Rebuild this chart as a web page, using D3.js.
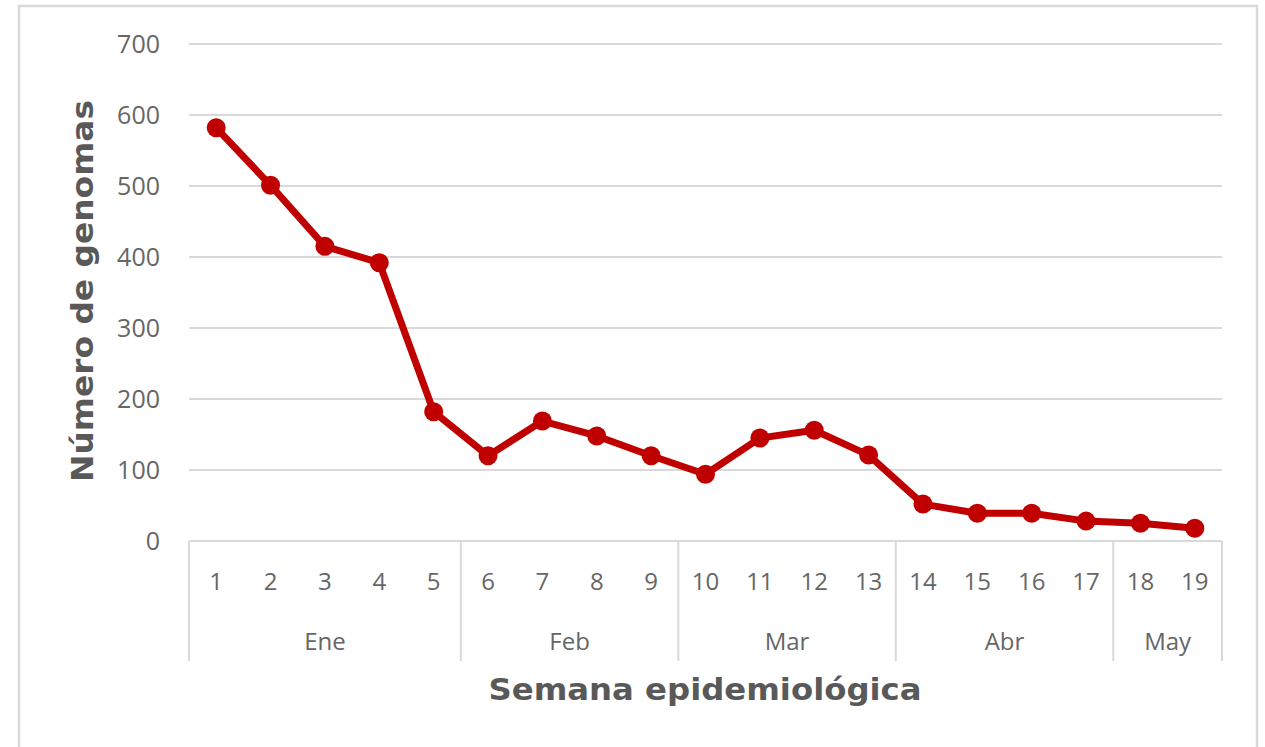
<!DOCTYPE html>
<html lang="es">
<head>
<meta charset="UTF-8">
<title>Número de genomas por semana epidemiológica</title>
<script src="https://d3js.org/d3.v7.min.js"></script>
<style>
  body { margin: 0; background: #fff; font-family: "Open Sans", sans-serif; }
  svg { display: block; }
</style>
</head>
<body>
<div id="chart"></div>
<script>
// data
const weeks = ["1","2","3","4","5","6","7","8","9","10","11","12","13","14","15","16","17","18","19"];
const genomes = [582, 501, 415, 392, 182, 120, 169, 148, 120, 94, 145, 156, 121, 52, 39, 39, 28, 25, 18];
const months = ["Ene", "Feb", "Mar", "Abr", "May"];
const monthWeeks = [5, 4, 4, 4, 2];   // how many weeks fall under each month
const yTicks = [0, 100, 200, 300, 400, 500, 600, 700];

const W = 1265, H = 747;
const margin = { top: 44, left: 189, right: 43, bottom: 206 };
const width = W - margin.left - margin.right;
const height = H - margin.top - margin.bottom;

const svg = d3.select("#chart").append("svg")
    .attr("width", W)
    .attr("height", H);

// outer frame
svg.append("rect")
    .attr("x", 19).attr("y", 6)
    .attr("width", 1238).attr("height", 760)
    .attr("fill", "none")
    .attr("stroke", "#d9d9d9")
    .attr("stroke-width", 2.5);

const g = svg.append("g")
    .attr("transform", `translate(${margin.left},${margin.top})`);

const x = d3.scaleBand().domain(weeks).range([0, width]);
const y = d3.scaleLinear().domain([0, 700]).range([height, 0]);

// gridlines
g.selectAll(".grid")
    .data(yTicks.filter(d => d > 0))
    .enter().append("line")
    .attr("x1", 0).attr("x2", width)
    .attr("y1", d => y(d)).attr("y2", d => y(d))
    .attr("stroke", "#d9d9d9")
    .attr("stroke-width", 2);

// y tick labels
g.selectAll(".ylab")
    .data(yTicks)
    .enter().append("text")
    .attr("x", -29)
    .attr("y", d => y(d))
    .attr("dy", "0.36em")
    .attr("text-anchor", "end")
    .attr("fill", "#666")
    .style("font-size", "25px")
    .text(d => d);

// x axis baseline
g.append("line")
    .attr("x1", 0).attr("x2", width)
    .attr("y1", height).attr("y2", height)
    .attr("stroke", "#d9d9d9")
    .attr("stroke-width", 2);

// month group separators
const bounds = [0];
monthWeeks.forEach(n => bounds.push(bounds[bounds.length - 1] + n));
g.selectAll(".sep")
    .data(bounds)
    .enter().append("line")
    .attr("x1", d => d === weeks.length ? width : x(weeks[d]))
    .attr("x2", d => d === weeks.length ? width : x(weeks[d]))
    .attr("y1", height)
    .attr("y2", height + 120)
    .attr("stroke", "#d9d9d9")
    .attr("stroke-width", 2);

// week labels
g.selectAll(".wlab")
    .data(weeks)
    .enter().append("text")
    .attr("x", d => x(d) + x.bandwidth() / 2)
    .attr("y", height + 40)
    .attr("dy", "0.36em")
    .attr("text-anchor", "middle")
    .attr("fill", "#666")
    .style("font-size", "24px")
    .text(d => d);

// month labels
g.selectAll(".mlab")
    .data(months)
    .enter().append("text")
    .attr("x", (d, i) => {
        const a = x(weeks[bounds[i]]);
        const b = bounds[i + 1] === weeks.length ? width : x(weeks[bounds[i + 1]]);
        return (a + b) / 2;
    })
    .attr("y", height + 100)
    .attr("dy", "0.36em")
    .attr("text-anchor", "middle")
    .attr("fill", "#666")
    .style("font-size", "24px")
    .text(d => d);

// line
const line = d3.line()
    .x((d, i) => x(weeks[i]) + x.bandwidth() / 2)
    .y(d => y(d));

g.append("path")
    .datum(genomes)
    .attr("fill", "none")
    .attr("stroke", "#c00000")
    .attr("stroke-width", 7)
    .attr("stroke-linejoin", "round")
    .attr("d", line);

g.selectAll(".dot")
    .data(genomes)
    .enter().append("circle")
    .attr("cx", (d, i) => x(weeks[i]) + x.bandwidth() / 2)
    .attr("cy", d => y(d))
    .attr("r", 9.5)
    .attr("fill", "#c00000");

// axis titles
svg.append("text")
    .attr("x", 705)
    .attr("y", 689)
    .attr("dy", "0.35em")
    .attr("text-anchor", "middle")
    .attr("fill", "#595959")
    .attr("textLength", 433)
    .attr("lengthAdjust", "spacingAndGlyphs")
    .style("font-family", "'DejaVu Sans', sans-serif")
    .style("font-size", "31px")
    .style("font-weight", "bold")
    .text("Semana epidemiológica");

svg.append("text")
    .attr("transform", `translate(82,291) rotate(-90)`)
    .attr("dy", "0.35em")
    .attr("text-anchor", "middle")
    .attr("fill", "#595959")
    .attr("textLength", 382)
    .attr("lengthAdjust", "spacingAndGlyphs")
    .style("font-family", "'DejaVu Sans', sans-serif")
    .style("font-size", "31px")
    .style("font-weight", "bold")
    .text("Número de genomas");
</script>
</body>
</html>
